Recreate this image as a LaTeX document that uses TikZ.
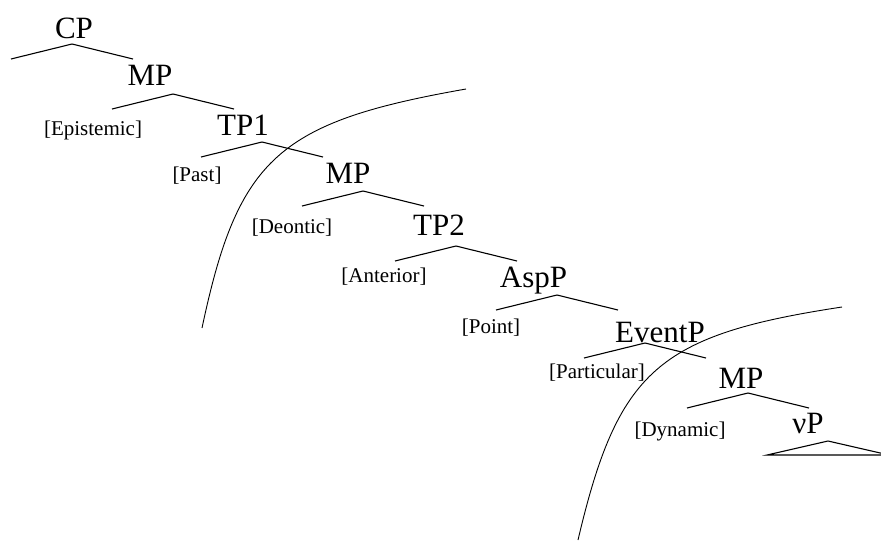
\documentclass[tikz,border=0pt]{standalone}
\usepackage{fontspec}
\setmainfont{Liberation Serif}
\tikzset{
  phrase/.style={anchor=base,inner sep=0pt,font=\fontsize{31}{36}\selectfont},
  feat/.style={anchor=base,inner sep=0pt,font=\fontsize{21}{24}\selectfont}
}
\begin{document}
\begin{tikzpicture}[x=1pt,y=-1pt,line width=1.1pt]
            \useasboundingbox (0,0) rectangle (881,542);
            \clip (0,0) rectangle (881,542);
            % phrase labels
            \node[phrase] (cp)   at (74,38.5)  {CP};
            \node[phrase] (mpa)  at (150,85)   {MP};
            \node[phrase] (tpa)  at (243,135)  {TP1};
            \node[phrase] (mpb)  at (348,183)  {MP};
            \node[phrase] (tpb)  at (439,235)  {TP2};
            \node[phrase] (asp)  at (533.5,287) {AspP};
            \node[phrase] (evt)  at (660,342.5) {EventP};
            \node[phrase] (mpc)  at (741,388)  {MP};
            \node[phrase] (vp)   at (808,433)  {νP};
            % features
            \node[feat] (epi)  at (93,135)   {[Epistemic]};
            \node[feat] (past) at (197,181.5) {[Past]};
            \node[feat] (deo)  at (292,233)  {[Deontic]};
            \node[feat] (ant)  at (384,282.5) {[Anterior]};
            \node[feat] (pnt)  at (491,333)  {[Point]};
            \node[feat] (par)  at (597,378)  {[Particular]};
            \node[feat] (dyn)  at (680,436.5) {[Dynamic]};
            % branches
            \foreach \x/\y in {72/44,173/94,262/142,363/191,456/246,557/295,645/343,748/393}
            \draw (\x-61,\y+15) -- (\x,\y) -- (\x+61,\y+15);
            % triangle under vP
            \draw (767,455) -- (828,441) -- (889,455) -- cycle;
            % the two curves
            \draw[line width=0.9pt] (202,328) .. controls (238,158) and (278,122) .. (466,89);
            \draw[line width=0.9pt] (578,540) .. controls (618,370) and (658,335) .. (842,307);
        \end{tikzpicture}
\end{document}
